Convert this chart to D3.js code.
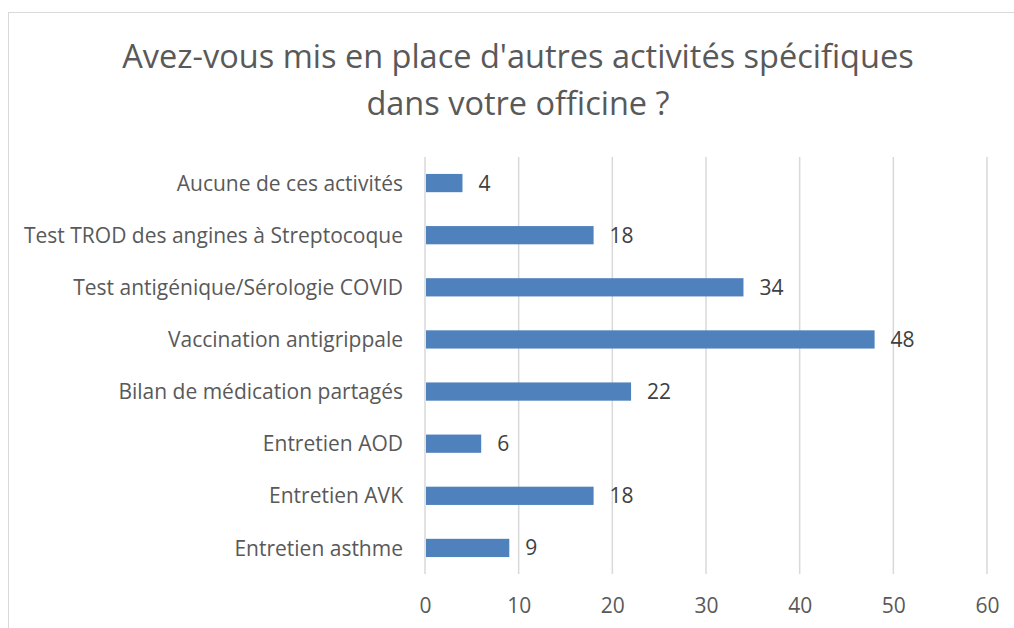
<!DOCTYPE html>
<html lang="fr">
<head>
<meta charset="UTF-8">
<title>Activités spécifiques</title>
<script src="https://d3js.org/d3.v7.min.js"></script>
<style>
  body { margin: 0; background: #fff; }
  svg { display: block; font-family: "Open Sans", sans-serif; }
</style>
</head>
<body>
<svg id="chart" width="1014" height="628"></svg>
<script>
// données
const titleLines = ["Avez-vous mis en place d'autres activités spécifiques", "dans votre officine ?"];
const categories = [
  "Aucune de ces activités",
  "Test TROD des angines à Streptocoque",
  "Test antigénique/Sérologie COVID",
  "Vaccination antigrippale",
  "Bilan de médication partagés",
  "Entretien AOD",
  "Entretien AVK",
  "Entretien asthme"
];
const values = [4, 18, 34, 48, 22, 6, 18, 9];
const xTicks = [0, 10, 20, 30, 40, 50, 60];

const width = 1014, height = 628;
const margin = { top: 157, right: 27, bottom: 54, left: 425 };

const svg = d3.select("#chart");

// cadre du graphique
svg.append("rect")
  .attr("x", 8.5).attr("y", 12.5)
  .attr("width", 1020).attr("height", 640)
  .attr("fill", "none").attr("stroke", "#d9d9d9").attr("stroke-width", 1);

// titre
svg.append("text")
  .attr("text-anchor", "middle")
  .attr("fill", "#595959")
  .style("font-size", "32.5px")
  .selectAll("tspan")
  .data(titleLines)
  .join("tspan")
  .attr("x", 518)
  .attr("y", (d, i) => 68 + i * 46.5)
  .text(d => d);

const x = d3.scaleLinear()
  .domain([0, 60])
  .range([margin.left, width - margin.right]);

const y = d3.scaleBand()
  .domain(categories)
  .range([margin.top, height - margin.bottom])
  .paddingInner(0.65)
  .paddingOuter(0.325);

// quadrillage
svg.append("g")
  .selectAll("line")
  .data(xTicks)
  .join("line")
  .attr("x1", d => x(d)).attr("x2", d => x(d))
  .attr("y1", margin.top).attr("y2", height - margin.bottom)
  .attr("stroke", "#d9d9d9").attr("stroke-width", 1.5);

// axe des x
const xAxis = svg.append("g")
  .attr("transform", `translate(0,${height - margin.bottom})`)
  .call(d3.axisBottom(x).tickValues(xTicks).tickSize(0).tickPadding(24));
xAxis.select(".domain").remove();
xAxis.selectAll("text").attr("fill", "#595959").style("font-size", "21px").style("font-family", "'Open Sans', sans-serif");

// axe des y
const yAxis = svg.append("g")
  .attr("transform", `translate(${margin.left},0)`)
  .call(d3.axisLeft(y).tickSize(0).tickPadding(22));
yAxis.select(".domain").remove();
yAxis.selectAll("text")
  .attr("fill", "#595959")
  .attr("dy", "0.36em")
  .style("font-size", "21px")
  .style("font-family", "'Open Sans', sans-serif");

// barres
svg.append("g")
  .selectAll("rect")
  .data(values)
  .join("rect")
  .attr("x", x(0) + 1)
  .attr("y", (d, i) => y(categories[i]))
  .attr("width", d => x(d) - x(0) - 1)
  .attr("height", y.bandwidth())
  .attr("fill", "#4f81bd");

// étiquettes de valeur
svg.append("g")
  .selectAll("text")
  .data(values)
  .join("text")
  .attr("x", d => x(d) + 16)
  .attr("y", (d, i) => y(categories[i]) + y.bandwidth() / 2)
  .attr("dy", "0.36em")
  .attr("fill", "#404040")
  .style("font-size", "21px")
  .text(d => d);
</script>
</body>
</html>
